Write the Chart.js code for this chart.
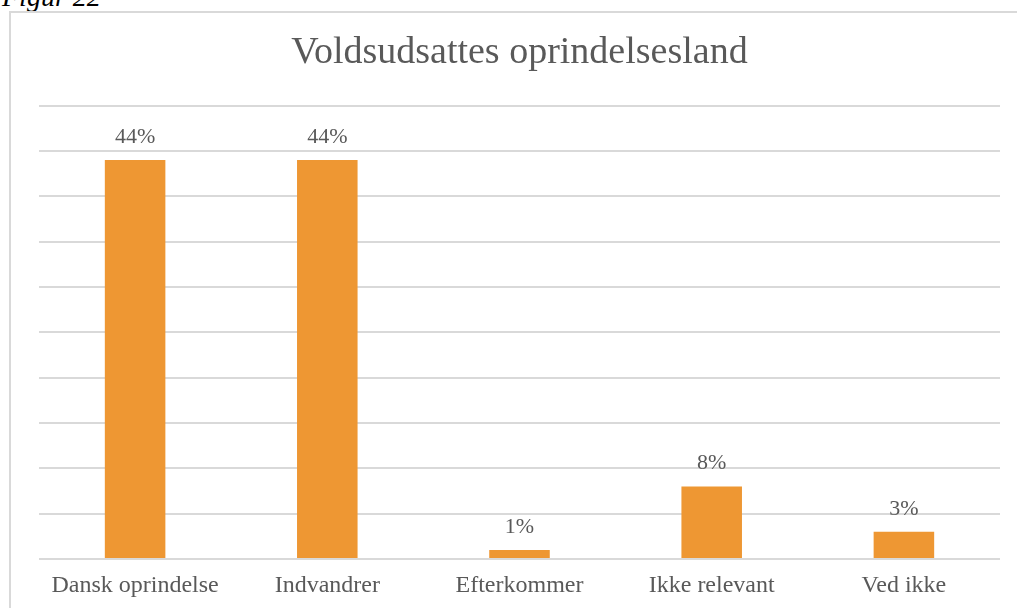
<!DOCTYPE html>
<html>
<head>
<meta charset="utf-8">
<script src="https://cdn.jsdelivr.net/npm/chart.js@4.4.1/dist/chart.umd.min.js"></script>
<style>
  html, body { margin: 0; padding: 0; background: #ffffff; overflow: hidden; width: 1017px; height: 608px; }
  #fig { position: absolute; left: 2px; top: -17px; font-family: "Liberation Serif", serif; font-style: italic; font-size: 28px; line-height: 28px; color: #000; white-space: nowrap; }
  #frame { position: absolute; left: 9px; top: 11px; width: 1100px; height: 700px; border: 2px solid #d9d9d9; box-sizing: border-box; }
  #c { position: absolute; left: 0; top: 0; }
</style>
</head>
<body>
<div id="fig">Figur 22</div>
<div id="frame"></div>
<canvas id="c" width="1017" height="608"></canvas>
<script>
const titleText = "Voldsudsattes oprindelsesland";
const categories = ["Dansk oprindelse", "Indvandrer", "Efterkommer", "Ikke relevant", "Ved ikke"];
const values = [44, 44, 1, 8, 3];
const valueLabels = ["44%", "44%", "1%", "8%", "3%"];

const FONT = '"Liberation Serif", "Times New Roman", serif';
const TEXT = '#595959';

const labelPlugin = {
  id: 'barLabels',
  afterDatasetsDraw(chart) {
    const ctx = chart.ctx;
    const meta = chart.getDatasetMeta(0);
    ctx.save();
    ctx.font = '22px ' + FONT;
    ctx.fillStyle = TEXT;
    ctx.textAlign = 'center';
    ctx.textBaseline = 'alphabetic';
    meta.data.forEach((bar, i) => {
      ctx.fillText(valueLabels[i], bar.x, bar.y - 17);
    });
    ctx.restore();
  }
};

new Chart(document.getElementById('c'), {
  type: 'bar',
  data: {
    labels: categories,
    datasets: [{
      data: values,
      backgroundColor: '#EE9733',
      borderWidth: 0,
      categoryPercentage: 1.0,
      barPercentage: 0.315
    }]
  },
  options: {
    responsive: false,
    animation: false,
    devicePixelRatio: 1,
    layout: { padding: { left: 39, right: 17, top: 2, bottom: 0 } },
    plugins: {
      legend: { display: false },
      tooltip: { enabled: false },
      title: {
        display: true,
        text: titleText,
        color: TEXT,
        font: { family: FONT, size: 38, weight: 'normal' },
        padding: { top: 28, bottom: 30 }
      }
    },
    scales: {
      x: {
        grid: { display: false, drawTicks: false },
        border: { display: false },
        ticks: { color: TEXT, font: { family: FONT, size: 24 }, padding: 12 },
        afterFit(scale) { scale.height = 49; }
      },
      y: {
        min: 0, max: 50,
        ticks: { display: false, stepSize: 5 },
        grid: { color: '#d9d9d9', lineWidth: 2, drawTicks: false },
        border: { display: false },
        afterFit(scale) { scale.width = 0; }
      }
    }
  },
  plugins: [labelPlugin]
});
</script>
</body>
</html>
